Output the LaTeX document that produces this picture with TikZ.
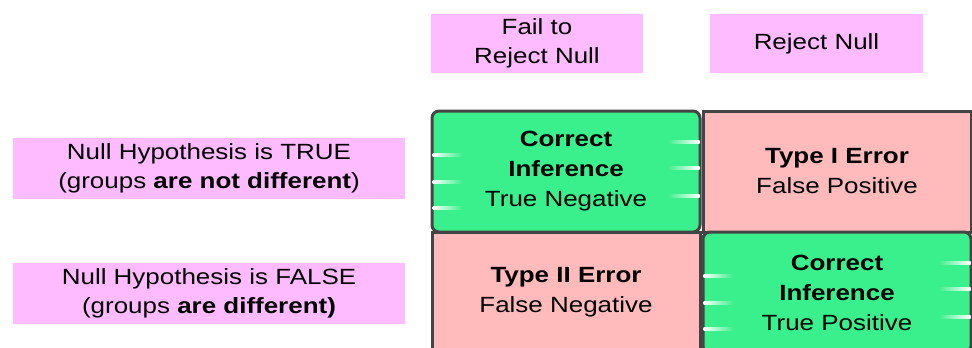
\documentclass[tikz,border=0pt]{standalone}
\usepackage{fontspec}
\setmainfont{Liberation Sans}[FakeStretch=1.18]
\definecolor{color1}{HTML}{3AF08C}
\definecolor{color2}{HTML}{FFBBBB}
\definecolor{color3}{HTML}{FFBBFF}
\definecolor{color4}{HTML}{444444}

\begin{document}
\begin{tikzpicture}[x=1pt,y=-1pt,
  lbl/.style={fill=color3,align=center,inner sep=0pt,font=\fontsize{22}{29}\selectfont},
  cell/.style={draw=color4,line width=3pt,align=center,inner sep=0pt,minimum width=268pt,minimum height=121pt,font=\fontsize{22}{30}\selectfont},
  hit/.style={cell,fill=color1,rounded corners=7pt},
  miss/.style={cell,fill=color2}]
\useasboundingbox (0,0) rectangle (972,348);
\clip (0,0) rectangle (972,348);

\node[lbl,minimum width=212pt,minimum height=59pt] (fail) at (537,43.5) {Fail to\\Reject Null};
\node[lbl,minimum width=213pt,minimum height=59pt] (reject) at (816.5,43.5) {Reject Null};
\node[lbl,minimum width=392pt,minimum height=61pt] (htrue) at (209,168.5) {Null Hypothesis is TRUE\\(groups \textbf{are not different})};
\node[lbl,minimum width=392pt,minimum height=61pt] (hfalse) at (209,293.5) {Null Hypothesis is FALSE\\(groups \textbf{are different)}};

\node[hit] (tn) at (566,171.5) {\textbf{Correct}\\\textbf{Inference}\\True Negative};
\node[miss] (fp) at (837,171.5) {\textbf{Type I Error}\\False Positive};
\node[miss] (fn) at (566,292.5) {\textbf{Type II Error}\\False Negative};
\node[hit] (tp) at (837,292.5) {\textbf{Correct}\\\textbf{Inference}\\True Positive};

\foreach \c in {tn,tp} {
  \foreach \dy in {44,71,97}
    \shade[left color=white,right color=color1] ([xshift=2pt,yshift=-\dy pt]\c.north west) rectangle ++(30,3);
  \foreach \dy in {31,57,85}
    \shade[left color=color1,right color=white] ([xshift=-2pt,yshift=-\dy pt]\c.north east) rectangle ++(-32,3);
}
\end{tikzpicture}
\end{document}
